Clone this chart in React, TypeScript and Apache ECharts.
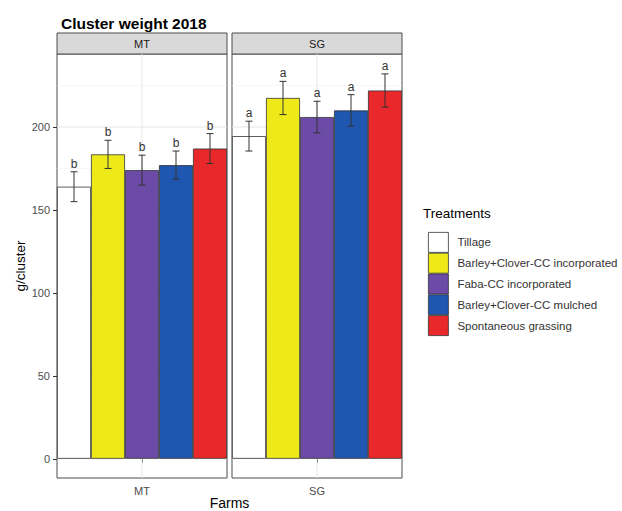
import React, { useEffect, useRef } from "react";
import * as echarts from "echarts";

const FARMS = ["MT", "SG"];
const TREATMENTS = [
  "Tillage",
  "Barley+Clover-CC incorporated",
  "Faba-CC incorporated",
  "Barley+Clover-CC mulched",
  "Spontaneous grassing",
];
const COLORS = ["#ffffff", "#eeea1a", "#6b4ba6", "#1e56b0", "#e8282a"];
const MT_MEAN = [164, 183.5, 174, 177, 187];
const MT_SE = [9, 8.5, 9, 8.5, 9];
const SG_MEAN = [194.5, 217.5, 206, 210, 222];
const SG_SE = [9, 10, 9.5, 9.5, 10];
const MT_LETTERS = ["b", "b", "b", "b", "b"];
const SG_LETTERS = ["a", "a", "a", "a", "a"];
const Y_TICKS = [0, 50, 100, 150, 200];
const Y_MINOR = [25, 75, 125, 175, 225];
const Y_MIN = -11.6;
const Y_MAX = 244;

const FONT = "Liberation Sans, Arial, sans-serif";

export default function App() {
  const ref = useRef<HTMLDivElement>(null);
  useEffect(() => {
    if (!ref.current) return;
    const chart = echarts.init(ref.current, undefined, { renderer: "svg" });
    const means = [MT_MEAN, SG_MEAN];
    const ses = [MT_SE, SG_SE];
    const letters = [MT_LETTERS, SG_LETTERS];
    const gridLeft = [57, 232];
    const gridW = 170;
    const gridTop = 54;
    const gridH = 424;

    const series: any[] = [];
    for (let g = 0; g < 2; g++) {
      series.push({
        type: "custom",
        xAxisIndex: g,
        yAxisIndex: g,
        z: 1,
        silent: true,
        data: [...Y_TICKS.map((v) => [0, v, 1]), ...Y_MINOR.map((v) => [0, v, 0])],
        renderItem: (params: any, api: any) => {
          const cs = params.coordSys;
          const y = api.coord([0, api.value(1)])[1];
          const major = api.value(2) === 1;
          const children: any[] = [
            {
              type: "line",
              shape: { x1: cs.x, y1: y, x2: cs.x + cs.width, y2: y },
              style: { stroke: major ? "#e6e6e6" : "#f1f1f1", lineWidth: major ? 1 : 0.6 },
            },
          ];
          if (params.dataIndex === 0) {
            const cx = api.coord([0, 0])[0];
            children.push({
              type: "line",
              shape: { x1: cx, y1: cs.y, x2: cx, y2: cs.y + cs.height },
              style: { stroke: "#e6e6e6", lineWidth: 1 },
            });
          }
          return { type: "group", children };
        },
      });
      for (let i = 0; i < 5; i++) {
        series.push({
          type: "bar",
          name: TREATMENTS[i],
          xAxisIndex: g,
          yAxisIndex: g,
          data: [means[g][i]],
          barGap: "0%",
          barCategoryGap: "0%",
          z: 2,
          itemStyle: { color: COLORS[i], borderColor: "#333", borderWidth: 0.8 },
        });
      }
      series.push({
        type: "custom",
        xAxisIndex: g,
        yAxisIndex: g,
        z: 3,
        silent: true,
        itemStyle: { color: "#333" },
        data: means[g].map((m, i) => [0, m, ses[g][i]]),
        encode: { x: 0, y: 1 },
        renderItem: (params: any, api: any) => {
          const i = params.dataIndex;
          const x0 = api.coord([0, 0])[0];
          const bw = api.size([1, 0])[0] / 5;
          const cx = x0 + (i - 2) * bw;
          const m = api.value(1);
          const s = api.value(2);
          const yTop = api.coord([0, m + s])[1];
          const yBot = api.coord([0, m - s])[1];
          const cap = 3.5;
          const st = { stroke: "#333", lineWidth: 1 };
          return {
            type: "group",
            children: [
              { type: "line", shape: { x1: cx, y1: yTop, x2: cx, y2: yBot }, style: st },
              { type: "line", shape: { x1: cx - cap, y1: yTop, x2: cx + cap, y2: yTop }, style: st },
              { type: "line", shape: { x1: cx - cap, y1: yBot, x2: cx + cap, y2: yBot }, style: st },
              {
                type: "text",
                x: cx,
                y: yTop - 2,
                style: {
                  text: letters[g][i],
                  align: "center",
                  verticalAlign: "bottom",
                  fontSize: 12,
                  fontFamily: FONT,
                  fill: "#333333",
                  stroke: "none",
                  lineWidth: 0,
                },
              },
            ],
          };
        },
      });
    }

    const graphic: any[] = [];
    for (let g = 0; g < 2; g++) {
      graphic.push({
        type: "rect",
        shape: { x: gridLeft[g], y: 33, width: gridW, height: 21 },
        style: { fill: "#d9d9d9", stroke: "#4d4d4d", lineWidth: 1 },
      });
      graphic.push({
        type: "text",
        x: gridLeft[g] + gridW / 2,
        y: 43.5,
        style: {
          text: FARMS[g],
          align: "center",
          verticalAlign: "middle",
          fontSize: 11,
          fontFamily: FONT,
          fill: "#1a1a1a",
        },
      });
    }
    graphic.push({
      type: "text",
      x: 229.5,
      y: 502.5,
      style: { text: "Farms", align: "center", verticalAlign: "middle", fontSize: 14, fontFamily: FONT, fill: "#000" },
    });
    graphic.push({
      type: "text",
      x: 423,
      y: 213,
      style: { text: "Treatments", align: "left", verticalAlign: "middle", fontSize: 13.5, fontFamily: FONT, fill: "#000" },
    });

    chart.setOption({
      animation: false,
      backgroundColor: "#ffffff",
      title: {
        text: "Cluster weight 2018",
        left: 56,
        top: 10,
        textStyle: { fontSize: 15.5, fontWeight: "bold", fontFamily: FONT, color: "#000" },
      },
      grid: [0, 1].map((g) => ({
        left: gridLeft[g],
        top: gridTop,
        width: gridW,
        height: gridH,
        show: true,
        borderColor: "#4d4d4d",
        borderWidth: 1,
        backgroundColor: "transparent",
      })),
      xAxis: [0, 1].map((g) => ({
        type: "category",
        gridIndex: g,
        data: [FARMS[g]],
        axisLine: { show: false },
        axisTick: { show: true, alignWithLabel: true, length: 4, lineStyle: { color: "#333" } },
        axisLabel: { fontSize: 11, color: "#4d4d4d", fontFamily: FONT, margin: 7 },
        splitLine: { show: false },
      })),
      yAxis: [0, 1].map((g) => ({
        type: "value",
        gridIndex: g,
        min: Y_MIN,
        max: Y_MAX,
        name: g === 0 ? "g/cluster" : "",
        nameLocation: "middle",
        nameRotate: 90,
        nameGap: 27,
        nameTextStyle: { fontSize: 13.5, fontFamily: FONT, color: "#000" },
        axisLine: { show: false },
        axisTick: { show: g === 0, length: 4, customValues: Y_TICKS, lineStyle: { color: "#333" } },
        axisLabel: {
          show: g === 0,
          customValues: Y_TICKS,
          fontSize: 11,
          color: "#4d4d4d",
          fontFamily: FONT,
          margin: 7,
        },
        splitLine: { show: false },
      })),
      legend: {
        data: TREATMENTS,
        orient: "vertical",
        left: 423,
        top: 227,
        itemWidth: 20,
        itemHeight: 20,
        itemGap: 0,
        icon: "rect",
        selectedMode: false,
        itemStyle: { borderColor: "#333", borderWidth: 0.8 },
        textStyle: { fontSize: 11.5, color: "#333", fontFamily: FONT, padding: [0, 0, 0, 4] },
      },
      graphic,
      series,
    });
    return () => chart.dispose();
  }, []);
  return (
    <div
      ref={ref}
      style={{ position: "absolute", left: 0, top: 0, width: 622, height: 511 }}
    />
  );
}
